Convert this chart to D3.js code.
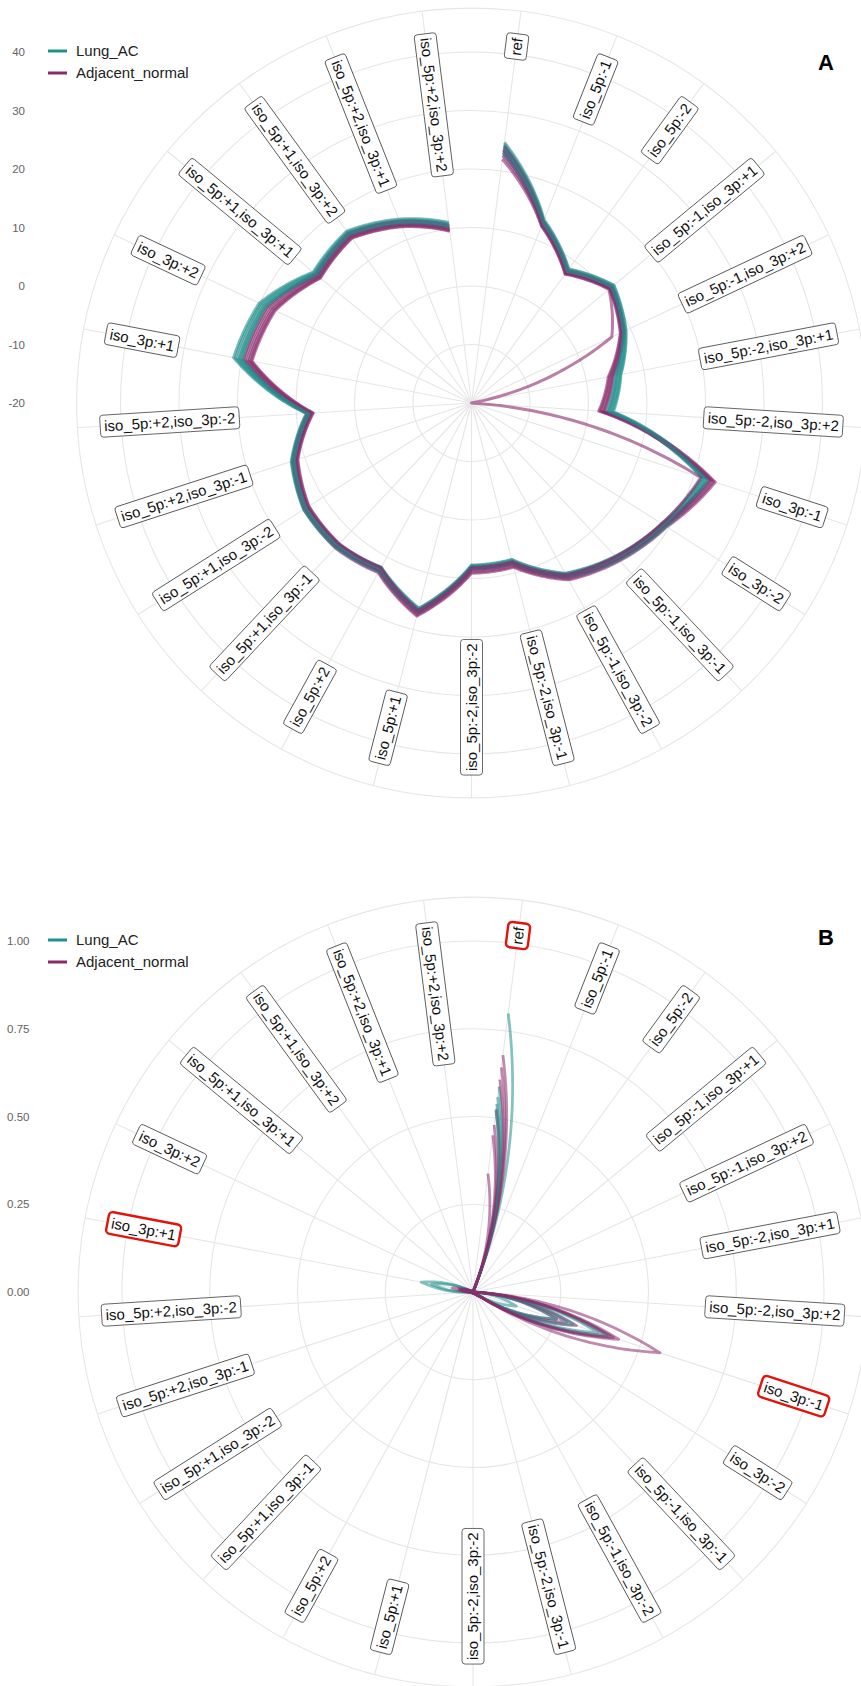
<!DOCTYPE html>
<html>
<head>
<meta charset="utf-8">
<script src="https://cdn.jsdelivr.net/npm/d3@7"></script>
<style>
  body { margin: 0; background: #fff; }
  svg { display: block; }
  text { font-family: "Liberation Sans", Arial, Helvetica, sans-serif; }
</style>
</head>
<body>
<svg id="chart" width="861" height="1686"></svg>
<script>
// isomiR variant categories, clockwise from the top
const categories = [
  "ref", "iso_5p:-1", "iso_5p:-2", "iso_5p:-1,iso_3p:+1", "iso_5p:-1,iso_3p:+2",
  "iso_5p:-2,iso_3p:+1", "iso_5p:-2,iso_3p:+2", "iso_3p:-1", "iso_3p:-2",
  "iso_5p:-1,iso_3p:-1", "iso_5p:-1,iso_3p:-2", "iso_5p:-2,iso_3p:-1", "iso_5p:-2,iso_3p:-2",
  "iso_5p:+1", "iso_5p:+2", "iso_5p:+1,iso_3p:-1", "iso_5p:+1,iso_3p:-2",
  "iso_5p:+2,iso_3p:-1", "iso_5p:+2,iso_3p:-2", "iso_3p:+1", "iso_3p:+2",
  "iso_5p:+1,iso_3p:+1", "iso_5p:+1,iso_3p:+2", "iso_5p:+2,iso_3p:+1", "iso_5p:+2,iso_3p:+2"
];

const groups = ["Lung_AC", "Adjacent_normal"];
const groupColors = ["#21908C", "#8B2A6A"];

// Panel A: log-scale abundance per sample (one row per sample)
const lungA = [
  [24.6,13.5,8.2,11.5,9.1,5.9,4.1,22.3,19.2,16.6,13.8,8.3,8.2,16.8,12.7,13.8,13.9,12.3,8.2,21.1,19.8,14.9,16.1,13.6,10.9],
  [23.5,12.9,7.6,10.9,8.5,5.2,3.4,21.6,18.6,16.0,13.3,7.7,7.8,16.3,12.1,13.2,13.3,11.7,7.6,20.2,19.0,14.3,15.5,13.0,10.3],
  [24.2,13.3,8.0,11.3,8.9,5.6,3.8,22.1,19.0,16.4,13.7,8.1,8.1,16.7,12.5,13.6,13.7,12.1,8.0,20.7,19.5,14.7,15.9,13.4,10.7],
  [23.0,12.7,7.5,10.8,8.4,5.0,3.2,21.4,18.5,15.9,13.2,7.6,7.7,16.2,12.0,13.1,13.2,11.6,7.5,19.9,18.8,14.1,15.3,12.8,10.1],
  [24.9,13.7,8.3,11.6,9.2,6.0,4.3,22.6,19.4,16.8,14.0,8.4,8.4,17.0,12.8,13.9,14.0,12.4,8.3,21.4,20.1,15.1,16.3,13.8,11.1],
  [23.8,13.1,7.8,11.1,8.7,5.4,3.6,21.8,18.8,16.2,13.5,7.9,7.9,16.5,12.3,13.4,13.5,11.9,7.8,20.4,19.2,14.5,15.7,13.2,10.5]
];
const normalA = [
  [23.9,13.2,7.8,11.1,8.6,4.5,2.6,23.5,19.3,16.8,14.3,8.8,8.9,17.4,12.9,13.8,13.7,12.0,7.9,19.4,18.3,14.3,15.6,13.2,10.4],
  [23.2,12.8,7.4,10.7,8.2,4.0,2.0,22.9,18.8,16.3,13.8,8.3,8.4,16.9,12.4,13.3,13.2,11.5,7.4,18.7,17.6,13.8,15.1,12.7,9.9],
  [24.3,13.4,8.0,11.2,8.8,4.7,2.8,23.8,19.5,17.0,14.5,9.0,9.1,17.6,13.1,14.0,13.9,12.2,8.1,19.7,18.6,14.5,15.8,13.4,10.6],
  [22.6,12.6,7.3,10.6,8.1,3.8,1.8,22.7,18.6,16.1,13.6,8.1,8.2,16.7,12.2,13.1,13.0,11.3,7.2,18.4,17.3,13.6,14.9,12.5,9.7],
  [23.6,13.0,7.6,10.9,8.4,4.3,2.3,23.2,19.0,16.5,14.0,8.5,8.6,17.1,12.6,13.5,13.4,11.7,7.6,19.0,17.9,14.0,15.3,12.9,10.1],
  [22.0,12.5,7.2,10.5,6.5,-20,-20,21.2,18.5,16.0,13.5,8.0,8.1,16.6,12.1,13.0,12.9,11.2,7.1,18.2,17.1,13.5,14.8,12.4,9.6]
];

// Panel B: proportion of reads per variant, per sample
const lungB = [
  [0.80,0.010,0.003,0.002,0.001,0.001,0.004,0.130,0.012,0.003,0.001,0.001,0.001,0.004,0.001,0.001,0.001,0.001,0.001,0.040,0.008,0.002,0.001,0.001,0.001],
  [0.59,0.008,0.002,0.002,0.001,0.001,0.003,0.250,0.010,0.002,0.001,0.001,0.001,0.003,0.001,0.001,0.001,0.001,0.002,0.120,0.010,0.002,0.001,0.001,0.001],
  [0.56,0.007,0.002,0.001,0.001,0.001,0.004,0.375,0.015,0.003,0.001,0.001,0.001,0.003,0.001,0.001,0.001,0.001,0.001,0.030,0.004,0.001,0.001,0.001,0.001],
  [0.54,0.006,0.002,0.001,0.001,0.001,0.003,0.300,0.012,0.002,0.001,0.001,0.001,0.003,0.001,0.001,0.001,0.001,0.002,0.150,0.012,0.002,0.001,0.001,0.001],
  [0.52,0.008,0.002,0.002,0.001,0.001,0.004,0.410,0.016,0.003,0.001,0.001,0.001,0.003,0.001,0.001,0.001,0.001,0.001,0.030,0.004,0.001,0.001,0.001,0.001]
];
const normalB = [
  [0.680,0.008,0.002,0.001,0.001,0.001,0.004,0.250,0.020,0.003,0.001,0.001,0.001,0.003,0.001,0.001,0.001,0.001,0.001,0.020,0.003,0.001,0.001,0.001,0.001],
  [0.645,0.008,0.002,0.001,0.001,0.001,0.004,0.280,0.020,0.003,0.001,0.001,0.001,0.003,0.001,0.001,0.001,0.001,0.001,0.025,0.003,0.001,0.001,0.001,0.001],
  [0.610,0.007,0.002,0.001,0.001,0.001,0.004,0.310,0.020,0.003,0.001,0.001,0.001,0.003,0.001,0.001,0.001,0.001,0.001,0.030,0.003,0.001,0.001,0.001,0.001],
  [0.525,0.007,0.002,0.001,0.001,0.001,0.005,0.400,0.020,0.003,0.001,0.001,0.001,0.003,0.001,0.001,0.001,0.001,0.001,0.030,0.003,0.001,0.001,0.001,0.001],
  [0.480,0.006,0.002,0.001,0.001,0.001,0.005,0.436,0.022,0.003,0.001,0.001,0.001,0.003,0.001,0.001,0.001,0.001,0.001,0.035,0.003,0.001,0.001,0.001,0.001],
  [0.450,0.006,0.002,0.001,0.001,0.001,0.005,0.420,0.022,0.003,0.001,0.001,0.001,0.003,0.001,0.001,0.001,0.001,0.001,0.060,0.004,0.001,0.001,0.001,0.001],
  [0.340,0.006,0.002,0.001,0.001,0.001,0.008,0.560,0.030,0.003,0.001,0.001,0.001,0.003,0.001,0.001,0.001,0.001,0.001,0.040,0.004,0.001,0.001,0.001,0.001]
];

// Radial axis ticks
const ticksA = [-20, -10, 0, 10, 20, 30, 40];
const tickLabelsA = ["-20", "-10", "0", "10", "20", "30", "40"];
const ticksB = [0, 0.25, 0.5, 0.75, 1];
const tickLabelsB = ["0.00", "0.25", "0.50", "0.75", "1.00"];

// Categories outlined in red in panel B
const highlightB = ["ref", "iso_3p:+1", "iso_3p:-1"];

const svg = d3.select("#chart");
const R_MAX = 351;            // radius of the data range
const R_OUTER = R_MAX * 1.125; // outer grid circle
const R_LABEL = R_MAX * 1.06;  // outer end of the category labels

const theta = d3.scaleBand().domain(categories).range([0, 2 * Math.PI]);
const angleOf = c => theta(c) + theta.bandwidth() / 2;

// Path in polar space: interpolate angle and radius linearly between categories
function polarPoints(values, r) {
  const steps = 40;
  const pts = [];
  for (let i = 0; i < values.length - 1; i++) {
    const a0 = angleOf(categories[i]), a1 = angleOf(categories[i + 1]);
    const r0 = Math.max(0, r(values[i])), r1 = Math.max(0, r(values[i + 1]));
    for (let s = 0; s < steps; s++) {
      const t = s / steps;
      pts.push([a0 + (a1 - a0) * t, r0 + (r1 - r0) * t]);
    }
  }
  const n = values.length - 1;
  pts.push([angleOf(categories[n]), Math.max(0, r(values[n]))]);
  return pts;
}

function drawPanel(cfg) {
  const r = d3.scaleLinear().domain(cfg.domain).range([0, R_MAX]);
  const g = svg.append("g").attr("transform", `translate(${cfg.cx},${cfg.cy})`);

  // grid circles
  const grid = g.append("g").attr("fill", "none").attr("stroke", "#e6e6e6").attr("stroke-width", 1.1);
  grid.selectAll("circle.tick")
    .data(cfg.ticks.filter(t => r(t) > 0))
    .join("circle").attr("class", "tick").attr("r", d => r(d));
  grid.append("circle").attr("r", R_OUTER);

  // spokes
  grid.selectAll("line")
    .data(categories)
    .join("line")
    .attr("x1", 0).attr("y1", 0)
    .attr("x2", c => R_OUTER * Math.sin(angleOf(c)))
    .attr("y2", c => -R_OUTER * Math.cos(angleOf(c)));

  // category labels, boxed and rotated along the radius
  const labels = g.append("g");
  categories.forEach(c => {
    const a = angleOf(c);
    const deg = a * 180 / Math.PI;
    const left = deg > 179.99;
    const rot = left ? deg + 90 : deg - 90;
    const lg = labels.append("g")
      .attr("transform", `translate(${R_LABEL * Math.sin(a)},${-R_LABEL * Math.cos(a)}) rotate(${rot})`);
    const hl = cfg.highlight.includes(c);
    const rect = lg.append("rect");
    const pad = 4, h = 22;
    const txt = lg.append("text")
      .attr("font-size", 15)
      .attr("fill", "#111")
      .attr("dy", "0.35em")
      .attr("text-anchor", left ? "start" : "end")
      .attr("x", left ? pad : -pad)
      .text(c);
    const w = txt.node().getComputedTextLength() + 2 * pad;
    rect.attr("x", left ? 0 : -w).attr("y", -h / 2)
      .attr("width", w).attr("height", h)
      .attr("rx", hl ? 4 : 3)
      .attr("fill", "#fff")
      .attr("stroke", hl ? "#e3120b" : "#444")
      .attr("stroke-width", hl ? 2.4 : 0.8);
  });

  // sample lines, alternating groups
  const line = d3.lineRadial().angle(d => d[0]).radius(d => d[1]);
  const series = [];
  const n = Math.max(cfg.lung.length, cfg.normal.length);
  for (let i = 0; i < n; i++) {
    if (i < cfg.lung.length) series.push({ g: 0, v: cfg.lung[i] });
    if (i < cfg.normal.length) series.push({ g: 1, v: cfg.normal[i] });
  }
  g.append("g").attr("fill", "none")
    .selectAll("path")
    .data(series)
    .join("path")
    .attr("d", d => line(polarPoints(d.v, r)))
    .attr("stroke", d => groupColors[d.g])
    .attr("stroke-width", cfg.lineWidth)
    .attr("stroke-opacity", cfg.lineOpacity)
    .attr("stroke-linejoin", "round");

  // radial axis labels on the left
  svg.append("g").selectAll("text")
    .data(cfg.ticks)
    .join("text")
    .attr("x", cfg.axisX)
    .attr("y", d => cfg.cy - r(d))
    .attr("dy", "0.35em")
    .attr("text-anchor", "end")
    .attr("font-size", 11.5)
    .attr("fill", "#636363")
    .text((d, i) => cfg.tickLabels[i]);

  // legend
  const leg = svg.append("g").attr("transform", `translate(48,${cfg.cy - 352})`);
  groups.forEach((name, i) => {
    const y = i * 22;
    leg.append("line").attr("x1", 0).attr("x2", 19).attr("y1", y).attr("y2", y)
      .attr("stroke", groupColors[i]).attr("stroke-width", 3);
    leg.append("text").attr("x", 28).attr("y", y).attr("dy", "0.35em")
      .attr("font-size", 15).attr("fill", "#222").text(name);
  });

  // panel tag
  svg.append("text")
    .attr("x", 826).attr("y", cfg.tagY)
    .attr("text-anchor", "middle")
    .attr("font-size", 22).attr("font-weight", "bold").attr("fill", "#000")
    .text(cfg.tag);
}

drawPanel({
  cx: 471.5, cy: 403, domain: [-20, 40],
  ticks: ticksA, tickLabels: tickLabelsA, axisX: 25,
  lung: lungA, normal: normalA, highlight: [],
  lineWidth: 3, lineOpacity: 0.6,
  tag: "A", tagY: 70
});

drawPanel({
  cx: 473, cy: 1292, domain: [0, 1],
  ticks: ticksB, tickLabels: tickLabelsB, axisX: 29.5,
  lung: lungB, normal: normalB, highlight: highlightB,
  lineWidth: 2.8, lineOpacity: 0.55,
  tag: "B", tagY: 945
});
</script>
</body>
</html>
